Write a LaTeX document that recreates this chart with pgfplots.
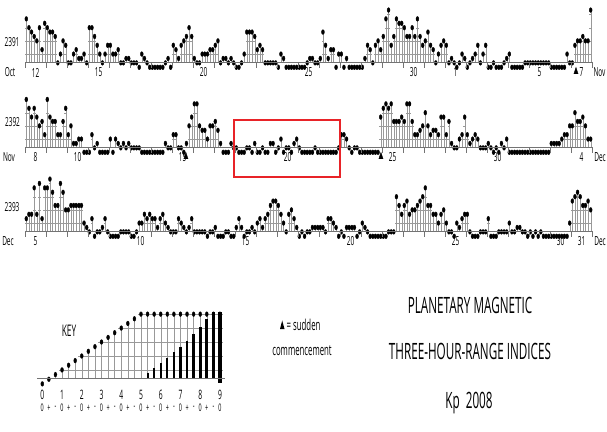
\documentclass[border=0pt]{standalone}
\usepackage{fontspec}
\setmainfont{Open Sans}[FakeStretch=0.52]
\usepackage{pgfplots}
\usepackage{pgfplotstable}
\pgfplotsset{compat=1.18}
\definecolor{stemc}{gray}{0.6}
\definecolor{basec}{gray}{0.45}
\definecolor{redbox}{RGB}{232,35,40}

% Kp in thirds: 0=0o, 1=0+, 2=1-, 3=1o, ... ; one line per day, 8 three-hour values
\pgfplotstableread{
a b c d e f g h
11 9 8 7 6 9 4 10
9 8 8 7 1 3 6 5
1 1 3 4 2 2 3 1
9 9 7 5 3 1 3 5
5 3 3 4 1 1 2 2
1 1 1 0 3 2 1 0
0 0 0 0 0 1 2 0
5 4 2 5 6 7 9 7
2 1 1 3 3 3 4 4
5 6 1 2 2 1 2 1
0 0 1 3 8 8 8 7
4 5 4 1 1 1 1 1
0 3 2 0 0 0 0 0
0 0 0 1 2 2 1 1
2 8 5 2 4 4 0 3
3 0 2 0 0 0 0 0
0 2 5 4 1 5 6 4
7 11 13 5 7 11 10 10
9 7 7 9 7 11 7 5
6 8 5 4 1 3 5 6
5 1 2 1 0 1 3 2
0 1 2 3 5 1 3 5
0 0 1 0 0 0 1 2
3 0 0 0 0 0 1 1
1 1 1 1 1 1 1 1
0 0 0 0 0 0 3 1
1 5 6 6 7 6 6 13
}\rowA
\pgfplotstableread{
a b c d e f g h
12 10 8 10 8 6 7 4
12 8 7 7 4 4 7 10
4 6 2 2 3 3 0 0
0 4 1 2 0 0 0 0
3 0 3 2 1 2 1 2
1 1 1 1 0 0 0 0
0 0 0 0 0 2 1 1
4 4 1 1 0 2 6 8
11 11 6 5 5 3 6 6
7 5 2 0 0 0 2 1
1 0 0 0 1 1 0 2
0 0 1 0 0 2 2 0
1 3 0 1 1 0 2 3
1 0 0 0 0 0 1 0
0 0 0 0 0 0 0 1
4 4 3 1 0 1 1 0
0 0 0 0 0 0 0 8
10 11 10 11 7 7 7 8
7 11 11 7 4 4 5 6
9 6 4 5 5 4 8 8
4 7 2 1 1 3 4 8
4 2 3 4 3 1 1 1
2 1 0 1 0 2 1 3
0 0 0 0 0 0 0 0
0 0 0 0 0 0 0 0
2 2 2 2 3 4 4 6
6 9 7 7 8 6 3 3
}\rowB
\pgfplotstableread{
a b c d e f g h
4 5 5 11 5 12 4 11
11 13 10 7 7 12 10 6
6 7 7 7 7 7 3 2
1 4 0 1 1 2 4 1
0 0 0 0 1 1 1 1
0 0 1 3 3 5 4 5
4 4 2 4 5 3 2 1
1 1 4 3 2 1 2 4
1 1 1 1 1 0 1 1
2 0 0 0 1 1 0 0
2 4 2 0 1 1 2 1
3 4 2 4 5 7 8 8
7 5 3 1 5 6 4 2
0 1 0 1 1 2 2 2
2 2 1 4 4 3 2 0
1 0 2 2 2 2 0 1
3 2 1 0 0 0 0 0
0 0 1 1 1 9 7 5
7 8 5 6 6 7 8 9
11 7 7 5 5 3 5 6
3 1 1 0 3 2 4 5
5 1 0 0 0 1 1 1
4 0 0 0 1 1 1 1
3 1 1 2 2 1 1 0
1 0 1 0 1 0 0 0
0 0 0 0 0 0 0 3
8 9 10 9 7 7 8 6
}\rowC
% key: dot level for each Kp step (0o ... 9o)
\pgfplotstableread{
x k
0.5 0
1.5 1
2.5 2
3.5 3
4.5 4
5.5 5
6.5 6
7.5 7
8.5 8
9.5 9
10.5 10
11.5 11
12.5 12
13.5 13
14.5 14
15.5 15
16.5 15
17.5 15
18.5 15
19.5 15
20.5 15
21.5 15
22.5 15
23.5 15
24.5 15
25.5 15
26.5 15
27.5 15
}\keytab
\pgfplotstableread{
x top bot
16.5 2.43 1.2
17.5 3.35 1.2
18.5 4.43 1.2
19.5 5.5 1.2
20.5 6.79 1.2
21.5 8.02 1.2
22.5 9.22 1.2
23.5 10.73 1.2
24.5 12.17 1.2
25.5 13.95 1.2
26.5 15.4 1.2
27.5 15.4 0.1
}\keybars

\pgfplotsset{
  stems/.style={draw=none, mark=none, forget plot, error bars/.cd, y dir=minus, y explicit,
    error mark=none, error bar style={draw=stemc, line width=0.35pt}},
  lvl/.style={draw=none, mark=none, forget plot, restrict y to domain=-5:100, error bars/.cd,
    x dir=both, x fixed=0.5, error mark=none, error bar style={draw=stemc, line width=0.35pt}},
  dots/.style={only marks, forget plot, mark=*, mark size=1.7pt,
    mark options={xscale=0.85, yscale=1.4, draw=black, fill=black}},
  tri/.style={only marks, forget plot, mark=triangle*, mark size=3pt,
    mark options={xscale=0.8, yscale=1.4, draw=black, fill=black}},
  rowax/.style={anchor=south west, scale only axis, width=567pt, height=60.72pt,
    xmin=0, xmax=216, ymin=1.2, ymax=15, hide axis, clip=false},
  kbar/.style={draw=none, mark=none, forget plot, error bars/.cd, y dir=minus, y explicit,
    error mark=none, error bar style={draw=black, line width=#1, line cap=butt}},
}
\newcommand{\kpplot}[1]{%
  \pgfplotsinvokeforeach{0,...,7}{%
    \addplot[stems] table[x expr=8*\coordindex+##1+0.5, y index=##1,
      y error expr={max(\thisrowno{##1}-1.2,0)}] {#1};
    \addplot[lvl] table[x expr=8*\coordindex+##1+0.5, y expr={\thisrowno{##1}<3 ? 1000 : 3}] {#1};
    \addplot[lvl] table[x expr=8*\coordindex+##1+0.5, y expr={\thisrowno{##1}<6 ? 1000 : 6}] {#1};
    \addplot[lvl] table[x expr=8*\coordindex+##1+0.5, y expr={\thisrowno{##1}<9 ? 1000 : 9}] {#1};
    \addplot[lvl] table[x expr=8*\coordindex+##1+0.5, y expr={\thisrowno{##1}<12 ? 1000 : 12}] {#1};
  }%
  \pgfplotsinvokeforeach{0,...,7}{%
    \addplot[dots] table[x expr=8*\coordindex+##1+0.5, y index=##1] {#1};
  }}

\begin{document}
\begin{tikzpicture}
% ---- row 1 : rotation 2391
\begin{axis}[rowax, at={(25pt,369pt)}]
\kpplot{\rowA}
\addplot[tri] coordinates {(209.9,-1.0)};
\end{axis}
% ---- row 2 : rotation 2392
\begin{axis}[rowax, at={(25pt,284pt)}]
\kpplot{\rowB}
\addplot[tri] coordinates {(61.3,-1.0) (135.6,-1.0)};
\end{axis}
% ---- row 3 : rotation 2393
\begin{axis}[rowax, at={(25pt,200pt)}]
\kpplot{\rowC}
\end{axis}
% ---- key
\begin{axis}[anchor=south west, scale only axis, width=184.24pt, height=68.82pt,
  xmin=0, xmax=28, ymin=1.2, ymax=16, hide axis, clip=false, at={(39pt,52.7pt)}]
\addplot[stems] table[x=x, y=k, y error expr={max(\thisrow{k}-1.2,0)}] {\keytab};
\pgfplotsinvokeforeach{3,6,9,12,15}{%
  \addplot[lvl] table[x=x, y expr={\thisrow{k}<#1 ? 1000 : #1}] {\keytab};
}
\addplot[restrict x to domain=16:20, kbar=2.1pt]
  table[x=x, y=top, y error expr={\thisrow{top}-\thisrow{bot}}] {\keybars};
\addplot[restrict x to domain=20.2:24, kbar=2.6pt]
  table[x=x, y=top, y error expr={\thisrow{top}-\thisrow{bot}}] {\keybars};
\addplot[restrict x to domain=24.2:28, kbar=3.2pt]
  table[x=x, y=top, y error expr={\thisrow{top}-\thisrow{bot}}] {\keybars};
\addplot[dots] table[x=x, y=k] {\keytab};
\end{axis}

\begin{scope}[x=1pt, y=1pt]
% baselines and day ticks
\foreach \yb in {369,284,200} {
  \draw[basec, line width=0.5pt] (25,\yb) -- (592,\yb);
  \foreach \d in {0,...,27} \draw[basec, line width=0.4pt] ({25+21*\d},\yb) -- ({25+21*\d},\yb-6);
}
\draw[basec, line width=0.5pt] (37,52.7) -- (225,52.7);

\tikzset{lab/.style={font=\fontsize{12.5}{13}\selectfont, inner sep=0pt}}
% row 1 labels
\node[lab] at (12,389) {2391};
\node[lab] at (10,358.5) {Oct};
\node[lab] at (599.5,358.5) {Nov};
\foreach \d/\t in {0/12,3/15,8/20,13/25,18/30,20/1,24/5,26/7}
  \node[lab] at ({25+21*(\d+0.5)},358.5) {\t};
% row 2 labels
\node[lab] at (12.5,308.5) {2392};
\node[lab] at (9,273.5) {Nov};
\node[lab] at (600,273.5) {Dec};
\foreach \d/\t in {0/8,2/10,7/15,12/20,17/25,22/30,26/4}
  \node[lab] at ({25+21*(\d+0.5)},273.5) {\t};
% row 3 labels
\node[lab] at (12,224) {2393};
\node[lab] at (8,189.5) {Dec};
\node[lab] at (600,189.5) {Dec};
\foreach \d/\t in {0/5,5/10,10/15,15/20,20/25,25/30,26/31}
  \node[lab] at ({25+21*(\d+0.5)},189.5) {\t};

% highlight box
\draw[redbox, line width=2pt] (233.5,311) rectangle (340,254);

% key labels
\node[font=\fontsize{16}{17}\selectfont, inner sep=0pt] at (69,100) {KEY};
\foreach \n in {0,...,9}
  \node[font=\fontsize{13}{14}\selectfont, inner sep=0pt] at ({42.3+19.74*\n},36.5) {\n};
\foreach \j in {0,...,27} {
  \pgfmathtruncatemacro\m{mod(\j,3)}
  \node[font=\fontsize{10.5}{11}\selectfont, inner sep=0pt] at ({42.3+6.58*\j},23)
    {\ifcase\m\relax 0\or +\or -\fi};
}

% sudden commencement legend
\fill[black] (280,102) -- (284.5,102) -- (282.2,110.5) -- cycle;
\node[font=\fontsize{15}{16}\selectfont, inner sep=0pt, anchor=west] at (286.5,106) {= sudden};
\node[font=\fontsize{15}{16}\selectfont, inner sep=0pt] at (302,80) {commencement};

% title
\node[font=\fontsize{22.5}{24}\selectfont, inner sep=0pt] at (470,126) {PLANETARY MAGNETIC};
\node[font=\fontsize{22.5}{24}\selectfont, inner sep=0pt] at (470,80) {THREE-HOUR-RANGE INDICES};
\node[font=\fontsize{22.5}{24}\selectfont, inner sep=0pt] at (469,28) {Kp\ \ 2008};

\pgfresetboundingbox
\path[use as bounding box] (0,0) rectangle (607,431);
\end{scope}
\end{tikzpicture}
\end{document}
